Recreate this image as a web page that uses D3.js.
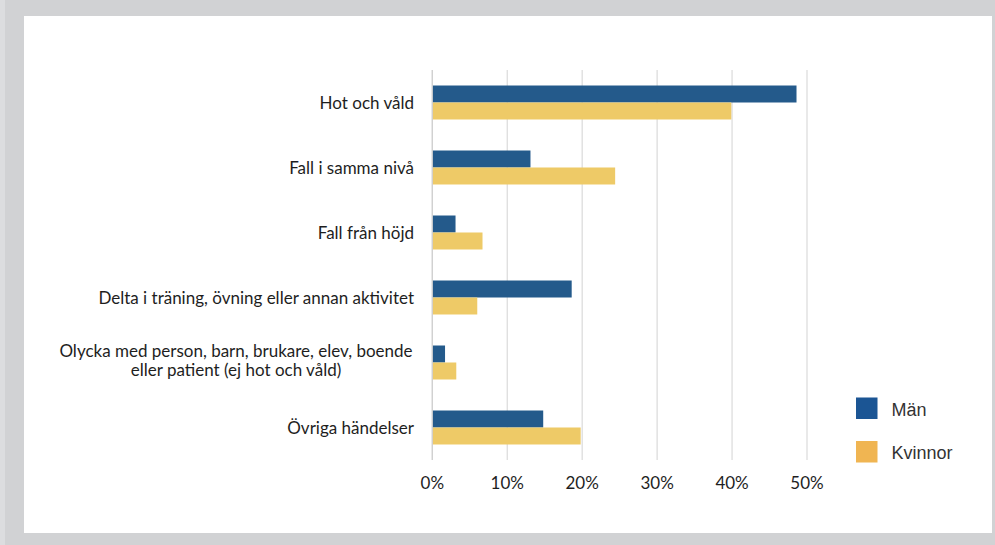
<!DOCTYPE html>
<html>
<head>
<meta charset="utf-8">
<script src="https://cdn.jsdelivr.net/npm/d3@7/dist/d3.min.js"></script>
<style>
  html, body { margin: 0; padding: 0; background: #d1d2d4; }
  svg { display: block; }
</style>
</head>
<body>
<svg id="chart" width="995" height="545"></svg>
<script>
// Andel arbetsolyckor per händelsetyp, uppdelat på kön
const categories = [
  ["Hot och våld"],
  ["Fall i samma nivå"],
  ["Fall från höjd"],
  ["Delta i träning, övning eller annan aktivitet"],
  ["Olycka med person, barn, brukare, elev, boende", "eller patient (ej hot och våld)"],
  ["Övriga händelser"]
];
const men   = [48.6, 13.1, 3.1, 18.6, 1.7, 14.8];
const women = [39.9, 24.4, 6.7, 6.0, 3.2, 19.8];
const seriesNames = ["Män", "Kvinnor"];
const xTicks = [0, 10, 20, 30, 40, 50];

const barColors = ["#245a8b", "#eeca67"];
const legendColors = ["#1b5594", "#f0b552"];

const svg = d3.select("#chart");

// white panel on grey frame
svg.append("rect").attr("x", 0).attr("y", 0).attr("width", 5).attr("height", 545).attr("fill", "#dcdddf");
svg.append("rect").attr("x", 24).attr("y", 16).attr("width", 968).attr("height", 517).attr("fill", "#ffffff");

const x = d3.scaleLinear().domain([0, 50]).range([432.3, 807]);
const y = d3.scaleBand().domain(d3.range(categories.length)).range([70, 460]).paddingInner(0.477).paddingOuter(0.2385);
const inner = d3.scaleBand().domain([0, 1]).range([0, y.bandwidth()]);

// gridlines
svg.append("g").selectAll("line").data(xTicks).join("line")
  .attr("x1", d => x(d)).attr("x2", d => x(d))
  .attr("y1", 70).attr("y2", 460)
  .attr("stroke", "#dadada").attr("stroke-width", 1.2);

// bars
const rows = categories.map((c, i) => ({ i, vals: [men[i], women[i]] }));
const g = svg.append("g");
rows.forEach(r => {
  r.vals.forEach((v, s) => {
    g.append("rect")
      .attr("x", x(0))
      .attr("y", y(r.i) + inner(s))
      .attr("width", x(v) - x(0))
      .attr("height", inner.bandwidth())
      .attr("fill", barColors[s]);
  });
});

// axis line at 0
svg.append("line").attr("x1", x(0)).attr("x2", x(0)).attr("y1", 70).attr("y2", 460)
  .attr("stroke", "#d0d0d0").attr("stroke-width", 1.2);

// x tick labels
const labelFont = "Lato, 'Open Sans', sans-serif";
svg.append("g").selectAll("text").data(xTicks).join("text")
  .attr("x", d => x(d)).attr("y", 489)
  .attr("text-anchor", "middle")
  .attr("font-family", labelFont).attr("font-size", 17).attr("fill", "#1e1e1e")
  .text(d => d + "%");

// category labels (two-line labels are centred on their own block)
const catG = svg.append("g");
categories.forEach((lines, i) => {
  const cy = y(i) + y.bandwidth() / 2;
  if (lines.length === 1) {
    catG.append("text")
      .attr("font-family", labelFont).attr("font-size", 17).attr("fill", "#1e1e1e")
      .attr("x", 414).attr("y", cy + 6).attr("text-anchor", "end").text(lines[0]);
  } else {
    lines.forEach((ln, k) => {
      catG.append("text")
        .attr("font-family", labelFont).attr("font-size", 17).attr("fill", "#1e1e1e")
        .attr("text-anchor", "middle")
        .attr("x", 236).attr("y", cy - 6 + k * 19).text(ln);
    });
  }
});

// legend
const legend = svg.append("g");
seriesNames.forEach((name, s) => {
  const ly = 397.5 + s * 43.5;
  legend.append("rect").attr("x", 856).attr("y", ly).attr("width", 21.5).attr("height", 21.5).attr("fill", legendColors[s]);
  legend.append("text").attr("x", 891.5).attr("y", ly + 18)
    .attr("font-family", "'Liberation Sans', Arial, sans-serif").attr("font-size", 18)
    .attr("fill", "#333").text(name);
});
</script>
</body>
</html>
